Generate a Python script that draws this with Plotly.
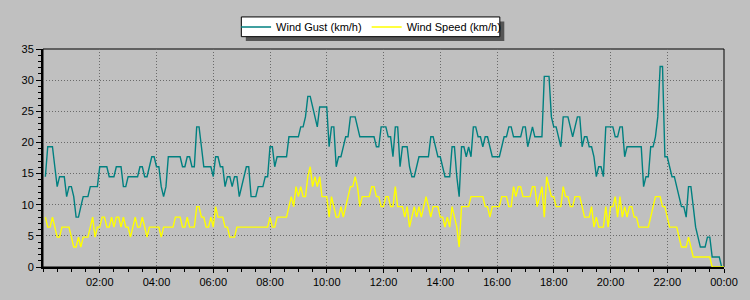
import plotly.graph_objects as go
import pandas as pd

# 5-minute samples from 00:05 to 24:00
times = pd.date_range("2024-01-01 00:05", periods=288, freq="5min").strftime("%Y-%m-%d %H:%M").tolist()

wind_gust = [
    14.5, 19.3, 19.3, 19.3, 16.1, 12.9, 14.5, 14.5, 14.5, 11.3, 12.9, 12.9,
    11.3, 8.0, 8.0, 9.7, 11.3, 11.3, 11.3, 12.9, 12.9, 12.9, 12.9, 16.1,
    16.1, 16.1, 16.1, 14.5, 14.5, 14.5, 16.1, 16.1, 16.1, 12.9, 12.9, 14.5,
    14.5, 14.5, 14.5, 14.5, 16.1, 16.1, 14.5, 14.5, 16.1, 17.7, 17.7, 16.1,
    16.1, 12.9, 11.3, 12.9, 17.7, 17.7, 17.7, 17.7, 17.7, 17.7, 16.1, 16.1,
    17.7, 17.7, 16.1, 16.1, 22.5, 22.5, 19.3, 16.1, 16.1, 16.1, 16.1, 14.5,
    17.7, 17.7, 16.1, 16.1, 12.9, 14.5, 14.5, 12.9, 14.5, 14.5, 11.3, 12.9,
    14.5, 16.1, 16.1, 11.3, 11.3, 11.3, 12.9, 12.9, 12.9, 14.5, 14.5, 19.3,
    19.3, 16.1, 17.7, 17.7, 17.7, 17.7, 17.7, 20.9, 20.9, 20.9, 20.9, 20.9,
    22.5, 22.5, 24.1, 27.4, 27.4, 25.7, 24.1, 22.5, 25.7, 25.7, 25.7, 25.7,
    19.3, 22.5, 22.5, 16.1, 17.7, 17.7, 19.3, 20.9, 20.9, 24.1, 24.1, 24.1,
    22.5, 20.9, 20.9, 20.9, 20.9, 20.9, 20.9, 20.9, 19.3, 19.3, 22.5, 22.5,
    22.5, 20.9, 20.9, 17.7, 22.5, 22.5, 16.1, 19.3, 19.3, 19.3, 16.1, 14.5,
    14.5, 16.1, 17.7, 17.7, 17.7, 17.7, 17.7, 20.9, 20.9, 19.3, 17.7, 17.7,
    16.1, 14.5, 14.5, 14.5, 19.3, 19.3, 14.5, 11.3, 19.3, 19.3, 17.7, 19.3,
    17.7, 22.5, 22.5, 20.9, 20.9, 19.3, 20.9, 20.9, 19.3, 17.7, 17.7, 17.7,
    17.7, 19.3, 20.9, 20.9, 22.5, 22.5, 20.9, 20.9, 20.9, 20.9, 22.5, 22.5,
    19.3, 20.9, 22.5, 20.9, 20.9, 20.9, 20.9, 30.6, 30.6, 30.6, 24.1, 22.5,
    22.5, 20.9, 19.3, 24.1, 24.1, 24.1, 22.5, 20.9, 22.5, 24.1, 24.1, 19.3,
    20.9, 20.9, 19.3, 19.3, 17.7, 14.5, 16.1, 16.1, 14.5, 22.5, 22.5, 22.5,
    22.5, 20.9, 20.9, 22.5, 22.5, 17.7, 19.3, 19.3, 19.3, 19.3, 19.3, 19.3,
    19.3, 12.9, 14.5, 14.5, 19.3, 19.3, 20.9, 24.1, 32.2, 32.2, 17.7, 17.7,
    16.1, 14.5, 14.5, 12.9, 11.3, 9.7, 9.7, 8.0, 12.9, 12.9, 9.7, 6.4,
    4.8, 3.2, 3.2, 3.2, 4.8, 4.8, 1.6, 1.6, 1.6, 1.6, 0.0, 0.0,
]

wind_speed = [
    8.0, 6.4, 6.4, 8.0, 6.4, 4.8, 4.8, 6.4, 6.4, 6.4, 6.4, 4.8,
    3.2, 3.2, 4.8, 3.2, 4.8, 4.8, 4.8, 6.4, 8.0, 4.8, 6.4, 6.4,
    8.0, 8.0, 6.4, 6.4, 8.0, 6.4, 8.0, 8.0, 6.4, 8.0, 6.4, 6.4,
    4.8, 6.4, 8.0, 6.4, 6.4, 8.0, 6.4, 4.8, 6.4, 6.4, 6.4, 6.4,
    6.4, 4.8, 6.4, 6.4, 6.4, 6.4, 6.4, 8.0, 8.0, 8.0, 6.4, 6.4,
    8.0, 6.4, 6.4, 6.4, 9.7, 9.7, 8.0, 8.0, 6.4, 6.4, 8.0, 6.4,
    9.7, 8.0, 8.0, 8.0, 6.4, 6.4, 4.8, 4.8, 4.8, 6.4, 6.4, 6.4,
    6.4, 6.4, 6.4, 6.4, 6.4, 6.4, 6.4, 6.4, 6.4, 6.4, 6.4, 8.0,
    6.4, 6.4, 8.0, 8.0, 8.0, 8.0, 8.0, 9.7, 11.3, 9.7, 12.9, 11.3,
    12.9, 11.3, 11.3, 14.5, 16.1, 12.9, 14.5, 12.9, 14.5, 11.3, 11.3, 11.3,
    8.0, 11.3, 9.7, 8.0, 8.0, 9.7, 8.0, 9.7, 11.3, 12.9, 12.9, 14.5,
    12.9, 9.7, 11.3, 11.3, 11.3, 11.3, 12.9, 12.9, 11.3, 11.3, 9.7, 9.7,
    11.3, 11.3, 9.7, 9.7, 12.9, 9.7, 9.7, 9.7, 8.0, 9.7, 6.4, 8.0,
    9.7, 8.0, 9.7, 8.0, 9.7, 11.3, 9.7, 8.0, 9.7, 9.7, 9.7, 8.0,
    8.0, 6.4, 8.0, 6.4, 9.7, 8.0, 6.4, 3.2, 9.7, 9.7, 9.7, 9.7,
    11.3, 11.3, 11.3, 11.3, 11.3, 11.3, 9.7, 9.7, 8.0, 9.7, 9.7, 9.7,
    9.7, 11.3, 11.3, 11.3, 9.7, 9.7, 12.9, 11.3, 12.9, 12.9, 11.3, 11.3,
    11.3, 11.3, 12.9, 12.9, 9.7, 11.3, 12.9, 8.0, 14.5, 12.9, 11.3, 11.3,
    9.7, 9.7, 9.7, 12.9, 11.3, 11.3, 9.7, 9.7, 11.3, 11.3, 11.3, 9.7,
    8.0, 8.0, 8.0, 9.7, 6.4, 8.0, 6.4, 6.4, 6.4, 9.7, 6.4, 9.7,
    9.7, 11.3, 8.0, 11.3, 8.0, 9.7, 8.0, 9.7, 9.7, 8.0, 8.0, 6.4,
    6.4, 6.4, 6.4, 6.4, 8.0, 9.7, 11.3, 11.3, 11.3, 9.7, 9.7, 8.0,
    6.4, 6.4, 6.4, 6.4, 4.8, 3.2, 3.2, 3.2, 4.8, 3.2, 1.6, 1.6,
    1.6, 1.6, 1.6, 1.6, 1.6, 1.6, 0.0, 0.0, 0.0, 0.0, 0.0, 0.0,
]

x_tick_vals = pd.date_range("2024-01-01 02:00", periods=12, freq="2h").strftime("%Y-%m-%d %H:%M").tolist()
x_tick_text = ["02:00", "04:00", "06:00", "08:00", "10:00", "12:00",
               "14:00", "16:00", "18:00", "20:00", "22:00", "00:00"]
y_tick_vals = [0, 5, 10, 15, 20, 25, 30, 35]

series_names = ["Wind Gust (km/h)", "Wind Speed (km/h)"]

fig = go.Figure()
fig.add_trace(go.Scatter(x=times, y=wind_gust, mode="lines", name=series_names[0],
                         line=dict(color="#008080", width=1.4)))
fig.add_trace(go.Scatter(x=times, y=wind_speed, mode="lines", name=series_names[1],
                         line=dict(color="#FFFF00", width=1.4)))

W, H = 750, 300
ml, mr, mt, mb = 43, 22, 46, 33
pw, ph = W - ml - mr, H - mt - mb

def px_x(p):
    return (p - ml) / pw

def px_y(p):
    return (H - mb - p) / ph

# legend drop shadow and box
fig.add_shape(type="rect", xref="paper", yref="paper",
              x0=px_x(247), x1=px_x(507), y0=px_y(38), y1=px_y(18),
              fillcolor="#555555", line=dict(width=0), layer="above")
fig.add_shape(type="rect", xref="paper", yref="paper",
              x0=px_x(242.5), x1=px_x(502.5), y0=px_y(33.5), y1=px_y(13.5),
              fillcolor="white", line=dict(color="black", width=1), layer="above")
# plot frame (thin, top/right)
fig.add_shape(type="rect", xref="paper", yref="paper", x0=0, x1=1, y0=0, y1=1,
              line=dict(color="black", width=1), layer="below")

fig.update_layout(
    width=W, height=H,
    margin=dict(l=ml, r=mr, t=mt, b=mb, pad=0),
    paper_bgcolor="#C0C0C0", plot_bgcolor="#C0C0C0",
    font=dict(family="Liberation Sans, Arial, sans-serif", size=11, color="black"),
    showlegend=True,
    legend=dict(orientation="h", x=px_x(373), xanchor="center", y=px_y(9), yanchor="top",
                bgcolor="rgba(0,0,0,0)", borderwidth=0,
                font=dict(size=11, color="black"), itemwidth=30, itemclick=False),
    xaxis=dict(range=["2024-01-01 00:00", "2024-01-02 00:00"],
               tickmode="array", tickvals=x_tick_vals, ticktext=x_tick_text,
               ticks="outside", ticklen=4, tickcolor="black", tickwidth=1,
               showline=True, linecolor="black", linewidth=2,
               showgrid=True, gridcolor="#6a6a6a", griddash="1px,2px", gridwidth=1,
               zeroline=False, layer="below traces",
               tickfont=dict(size=11),
               minor=dict(dtick=1800000, tick0="2024-01-01 00:00", ticks="outside",
                          ticklen=3, tickcolor="black", showgrid=False)),
    yaxis=dict(range=[0, 35], tickmode="array", tickvals=y_tick_vals,
               ticks="outside", ticklen=5, tickcolor="black", tickwidth=1,
               showline=True, linecolor="black", linewidth=2,
               showgrid=True, gridcolor="#6a6a6a", griddash="1px,2px", gridwidth=1,
               zeroline=False, layer="below traces",
               tickfont=dict(size=11),
               minor=dict(dtick=1, tick0=0, ticks="outside", ticklen=3,
                          tickcolor="black", showgrid=False)),
)

fig.write_html("out.html")
